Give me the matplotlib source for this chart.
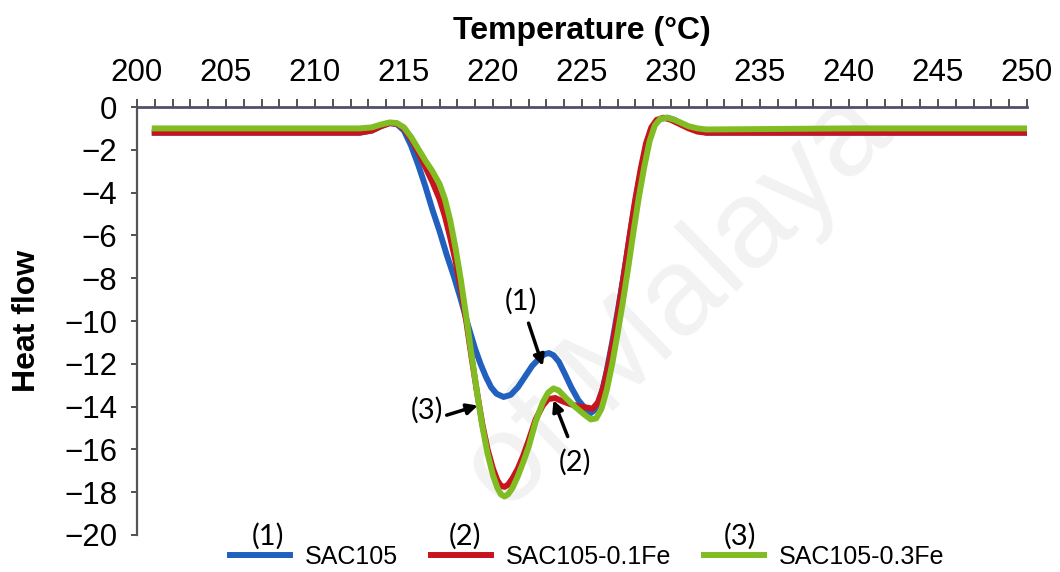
import matplotlib
matplotlib.use('Agg')
import matplotlib.pyplot as plt
from matplotlib.ticker import MultipleLocator

plt.rcParams['font.family'] = 'Liberation Sans'

# DSC heating curves, heat flow vs temperature
temp_sac105 = [201, 212.5, 213.2, 213.7, 214.2, 214.6, 215.0, 215.4, 215.8, 216.2, 216.6, 217.0,
               217.4, 217.8, 218.2, 218.6, 219.0, 219.3, 219.6, 219.9, 220.2, 220.6, 221.0, 221.4,
               221.8, 222.2, 222.6, 222.9, 223.15, 223.4, 223.7, 224.0, 224.4, 224.8, 225.2, 225.5, 225.8,
               226.1, 226.4, 226.7, 227.0, 227.3, 227.6, 227.9, 228.2, 228.5, 228.8, 229.1, 229.4,
               229.8, 230.2, 230.6, 231.0, 231.5, 232.0, 240, 250]
hf_sac105 = [-1.2, -1.2, -1.1, -0.9, -0.75, -0.8, -1.1, -1.8, -2.7, -3.7, -4.8, -5.8,
             -6.9, -7.9, -9.0, -10.2, -11.3, -12.0, -12.6, -13.1, -13.4, -13.55, -13.45, -13.1,
             -12.6, -12.1, -11.75, -11.55, -11.5, -11.6, -11.9, -12.4, -13.1, -13.7, -14.1, -14.3, -14.1,
             -13.4, -12.3, -11.0, -9.6, -8.1, -6.5, -4.9, -3.5, -2.3, -1.4, -0.8, -0.55,
             -0.5, -0.6, -0.8, -0.95, -1.1, -1.2, -1.2, -1.2]

temp_fe01 = [201, 212.5, 213.2, 213.7, 214.2, 214.6, 215.0, 215.4, 215.8, 216.2, 216.6, 217.0,
             217.3, 217.6, 217.9, 218.2, 218.5, 218.8, 219.1, 219.4, 219.7, 220.0, 220.25, 220.45, 220.65,
             220.85, 221.1, 221.4, 221.7, 222.0, 222.4, 222.8, 223.1, 223.5, 223.9, 224.4, 224.9, 225.3,
             225.6, 225.9, 226.2, 226.5, 226.8, 227.1, 227.4, 227.7, 228.0, 228.3, 228.6, 228.9,
             229.2, 229.6, 230.0, 230.5, 231.0, 231.5, 232.0, 240, 250]
hf_fe01 = [-1.2, -1.2, -1.1, -0.9, -0.75, -0.78, -1.0, -1.5, -2.1, -2.8, -3.5, -4.3,
           -5.1, -6.1, -7.2, -8.5, -10.0, -11.7, -13.3, -14.8, -16.0, -16.9, -17.45, -17.7, -17.75,
           -17.65, -17.35, -16.9, -16.3, -15.6, -14.6, -13.95, -13.65, -13.6, -13.75, -13.9, -14.0, -14.05,
           -14.1, -13.8, -13.1, -12.0, -10.7, -9.2, -7.6, -5.9, -4.3, -2.9, -1.7, -0.95,
           -0.6, -0.5, -0.6, -0.8, -1.0, -1.15, -1.2, -1.2, -1.2]

temp_fe03 = [201, 212.5, 213.2, 213.7, 214.2, 214.6, 215.0, 215.4, 215.8, 216.2, 216.6, 217.0,
             217.3, 217.6, 217.9, 218.2, 218.5, 218.8, 219.1, 219.4, 219.7, 220.0, 220.25, 220.45, 220.65,
             220.85, 221.1, 221.4, 221.7, 222.0, 222.4, 222.8, 223.1, 223.4, 223.7, 224.1, 224.6, 225.1,
             225.5, 225.8, 226.1, 226.4, 226.7, 227.0, 227.3, 227.6, 227.9, 228.2, 228.5, 228.8,
             229.1, 229.4, 229.8, 230.2, 230.6, 231.0, 231.5, 232.0, 240, 250]
hf_fe03 = [-1.0, -1.0, -0.95, -0.82, -0.72, -0.75, -0.95, -1.4, -1.95, -2.5, -3.0, -3.6,
           -4.3, -5.3, -6.6, -8.1, -9.8, -11.6, -13.3, -14.9, -16.2, -17.2, -17.8, -18.1, -18.2,
           -18.1, -17.8, -17.25, -16.6, -15.9, -14.7, -13.8, -13.35, -13.15, -13.25, -13.6, -14.0, -14.35,
           -14.6, -14.55, -14.1, -13.2, -12.0, -10.6, -9.1, -7.5, -5.8, -4.2, -2.8, -1.6,
           -0.85, -0.55, -0.5, -0.6, -0.75, -0.9, -1.0, -1.05, -1.0, -1.0]

labels = ['SAC105', 'SAC105-0.1Fe', 'SAC105-0.3Fe']
colors = ['#2260c0', '#c8141e', '#80bc22']

fig = plt.figure(figsize=(10.6, 5.72), dpi=100)
ax = fig.add_axes([0.1292, 0.0647, 0.8396, 0.7482])
ax.set_zorder(2)
ax.patch.set_alpha(0)

# faint watermark behind the curves
fig.text(0.64, 0.47, 'of Malaya', fontsize=90, color='#f2f2f2', rotation=44,
         ha='center', va='center', zorder=0)

ax.plot(temp_sac105, hf_sac105, color=colors[0], lw=4.3, label=labels[0], solid_joinstyle='round')
ax.plot(temp_fe01, hf_fe01, color=colors[1], lw=4.3, label=labels[1], solid_joinstyle='round')
ax.plot(temp_fe03, hf_fe03, color=colors[2], lw=4.3, label=labels[2], solid_joinstyle='round')

ax.set_xlim(200, 250)
ax.set_ylim(-20, 0)
ax.xaxis.tick_top()
ax.xaxis.set_label_position('top')
ax.xaxis.set_major_locator(MultipleLocator(5))
ax.xaxis.set_minor_locator(MultipleLocator(1))
ax.yaxis.set_major_locator(MultipleLocator(2))
ax.spines['bottom'].set_visible(False)
ax.spines['right'].set_visible(False)
ax.spines['top'].set_color('#50506a')
ax.spines['top'].set_linewidth(2)
ax.spines['left'].set_color('#555555')
ax.spines['left'].set_linewidth(1.6)
ax.tick_params(axis='x', which='both', direction='out', length=5.5, width=1.3, color='#444444',
               labelsize=22.5, pad=8)
ax.tick_params(axis='y', direction='out', length=4, width=1.3, color='#444444',
               labelsize=22.5, pad=10)

ax.set_xlabel('Temperature (°C)', fontsize=23, fontweight='bold', labelpad=14)
ax.set_ylabel('Heat flow', fontsize=23, fontweight='bold', labelpad=16)

# curve markers (1)-(3)
ann = dict(fontsize=21, family='Lato', ha='center', va='center')
arrow = dict(arrowstyle='-|>', lw=2.5, color='black', mutation_scale=16, shrinkA=0, shrinkB=0)
ax.annotate('', xy=(222.8, -12.1), xytext=(222.0, -10.1), arrowprops=arrow)
ax.text(221.6, -9.1, '(1)', **ann)
ax.annotate('', xy=(223.4, -13.7), xytext=(224.2, -15.4), arrowprops=arrow)
ax.text(224.6, -16.6, '(2)', **ann)
ax.annotate('', xy=(219.15, -13.95), xytext=(217.4, -14.4), arrowprops=arrow)
ax.text(216.3, -14.15, '(3)', **ann)

leg = fig.legend(loc='center', bbox_to_anchor=(0.554, 0.026), ncol=3, frameon=False,
                 fontsize=18, handlelength=2.4, handletextpad=0.6, columnspacing=1.3,
                 borderaxespad=0)
leg.set_zorder(3)
for line in leg.get_lines():
    line.set_linewidth(4.3)
for xf, tag in zip([0.253, 0.439, 0.698], ['(1)', '(2)', '(3)']):
    fig.text(xf, 0.063, tag, fontsize=21, family='Lato', ha='center', va='center', zorder=3)

fig.savefig('out.png', dpi=100)
